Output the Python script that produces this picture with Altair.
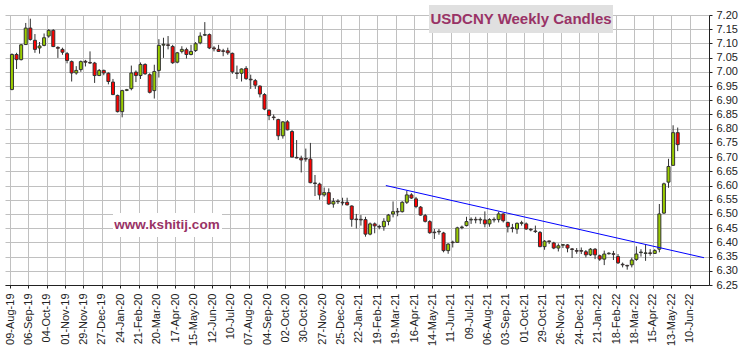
import altair as alt
import pandas as pd

# ---- data (weekly OHLC, first week starting 12-Aug-2019) ----
first_week = "2019-08-12"
opens = [6.938, 7.061, 7.043, 7.096, 7.154, 7.111, 7.084, 7.093, 7.126, 7.146,
         7.086, 7.079, 7.064, 7.036, 6.996, 7.008, 7.037, 7.033, 7.031, 6.987,
         7.005, 6.995, 6.964, 6.917, 6.860, 6.935, 6.941, 6.999, 6.987, 7.026,
         6.990, 6.934, 7.005, 7.094, 7.095, 7.089, 7.034, 7.072, 7.078, 7.061,
         7.075, 7.102, 7.129, 7.131, 7.084, 7.079, 7.074, 7.074, 7.065, 6.996,
         6.995, 7.012, 6.974, 6.969, 6.950, 6.920, 6.865, 6.841, 6.832, 6.775,
         6.824, 6.790, 6.699, 6.696, 6.695, 6.693, 6.609, 6.605, 6.567, 6.575,
         6.535, 6.545, 6.541, 6.541, 6.528, 6.482, 6.481, 6.480, 6.429, 6.465,
         6.456, 6.455, 6.474, 6.500, 6.509, 6.508, 6.541, 6.567, 6.553, 6.524,
         6.494, 6.473, 6.436, 6.437, 6.433, 6.371, 6.401, 6.400, 6.452, 6.459,
         6.479, 6.481, 6.479, 6.479, 6.465, 6.479, 6.480, 6.500, 6.470, 6.451,
         6.447, 6.467, 6.465, 6.446, 6.440, 6.435, 6.385, 6.405, 6.398, 6.380,
         6.390, 6.391, 6.377, 6.371, 6.371, 6.367, 6.356, 6.376, 6.353, 6.341,
         6.360, 6.360, 6.350, 6.323, 6.319, 6.321, 6.340, 6.364, 6.361, 6.363,
         6.361, 6.376, 6.503, 6.612, 6.671, 6.786]
highs = [7.065, 7.067, 7.098, 7.172, 7.187, 7.133, 7.105, 7.135, 7.150, 7.150,
         7.090, 7.085, 7.070, 7.040, 7.020, 7.040, 7.042, 7.072, 7.035, 7.010,
         7.008, 6.998, 6.975, 6.920, 6.937, 6.940, 7.022, 7.005, 7.033, 7.030,
         6.995, 7.025, 7.115, 7.120, 7.126, 7.095, 7.070, 7.090, 7.085, 7.095,
         7.105, 7.139, 7.175, 7.135, 7.090, 7.095, 7.081, 7.085, 7.068, 7.022,
         7.012, 7.020, 6.990, 6.975, 6.952, 6.925, 6.868, 6.850, 6.835, 6.826,
         6.830, 6.795, 6.760, 6.705, 6.730, 6.750, 6.637, 6.610, 6.593, 6.590,
         6.556, 6.552, 6.557, 6.557, 6.530, 6.500, 6.496, 6.490, 6.470, 6.470,
         6.462, 6.485, 6.500, 6.544, 6.521, 6.545, 6.582, 6.573, 6.560, 6.528,
         6.500, 6.478, 6.447, 6.447, 6.437, 6.397, 6.406, 6.455, 6.459, 6.490,
         6.488, 6.490, 6.488, 6.509, 6.485, 6.488, 6.508, 6.502, 6.473, 6.465,
         6.470, 6.476, 6.470, 6.450, 6.459, 6.440, 6.408, 6.406, 6.402, 6.396,
         6.394, 6.394, 6.380, 6.380, 6.382, 6.373, 6.380, 6.380, 6.357, 6.371,
         6.365, 6.370, 6.359, 6.329, 6.321, 6.346, 6.386, 6.376, 6.394, 6.376,
         6.376, 6.535, 6.610, 6.694, 6.812, 6.804]
lows = [6.935, 7.010, 7.040, 7.095, 7.110, 7.067, 7.064, 7.090, 7.120, 7.087,
        7.049, 7.060, 7.030, 6.966, 6.990, 7.000, 7.019, 7.028, 6.961, 6.985,
        6.988, 6.956, 6.918, 6.857, 6.840, 6.932, 6.935, 6.964, 6.975, 6.990,
        6.924, 6.906, 6.980, 7.049, 7.079, 7.028, 7.030, 7.065, 7.047, 7.058,
        7.070, 7.097, 7.126, 7.080, 7.072, 7.070, 7.055, 7.060, 6.993, 6.975,
        6.966, 6.972, 6.940, 6.940, 6.910, 6.865, 6.830, 6.830, 6.760, 6.765,
        6.794, 6.700, 6.696, 6.646, 6.684, 6.608, 6.563, 6.550, 6.561, 6.532,
        6.522, 6.535, 6.530, 6.530, 6.455, 6.449, 6.459, 6.420, 6.425, 6.432,
        6.446, 6.441, 6.460, 6.488, 6.492, 6.505, 6.535, 6.553, 6.520, 6.494,
        6.470, 6.430, 6.412, 6.427, 6.365, 6.360, 6.382, 6.398, 6.446, 6.456,
        6.465, 6.467, 6.465, 6.453, 6.455, 6.470, 6.470, 6.470, 6.435, 6.435,
        6.430, 6.459, 6.444, 6.439, 6.433, 6.383, 6.374, 6.394, 6.376, 6.368,
        6.380, 6.365, 6.345, 6.360, 6.359, 6.347, 6.352, 6.341, 6.335, 6.320,
        6.357, 6.338, 6.324, 6.312, 6.304, 6.312, 6.335, 6.350, 6.335, 6.353,
        6.360, 6.365, 6.500, 6.592, 6.670, 6.721]
closes = [7.061, 7.043, 7.095, 7.154, 7.114, 7.079, 7.091, 7.120, 7.146, 7.089,
          7.083, 7.069, 7.040, 6.996, 7.005, 7.036, 7.034, 7.031, 6.987, 7.005,
          6.996, 6.966, 6.920, 6.860, 6.934, 6.937, 6.996, 6.987, 7.026, 6.993,
          6.928, 7.001, 7.093, 7.097, 7.093, 7.032, 7.067, 7.079, 7.061, 7.072,
          7.099, 7.126, 7.131, 7.084, 7.081, 7.072, 7.072, 7.067, 7.000, 6.994,
          7.010, 6.976, 6.972, 6.953, 6.922, 6.869, 6.846, 6.839, 6.775, 6.824,
          6.796, 6.700, 6.697, 6.690, 6.693, 6.610, 6.607, 6.567, 6.575, 6.535,
          6.544, 6.543, 6.539, 6.532, 6.481, 6.480, 6.479, 6.429, 6.465, 6.458,
          6.454, 6.474, 6.496, 6.508, 6.507, 6.541, 6.567, 6.556, 6.526, 6.496,
          6.474, 6.434, 6.434, 6.439, 6.371, 6.394, 6.399, 6.451, 6.454, 6.473,
          6.481, 6.479, 6.481, 6.465, 6.480, 6.481, 6.500, 6.476, 6.455, 6.449,
          6.467, 6.469, 6.447, 6.444, 6.438, 6.385, 6.404, 6.403, 6.380, 6.388,
          6.392, 6.380, 6.375, 6.369, 6.369, 6.356, 6.376, 6.356, 6.341, 6.359,
          6.362, 6.358, 6.328, 6.321, 6.317, 6.338, 6.359, 6.366, 6.363, 6.361,
          6.371, 6.500, 6.606, 6.667, 6.786, 6.744]

tick_dates = ["2019-08-09", "2019-09-06", "2019-10-04", "2019-11-01", "2019-11-29",
              "2019-12-27", "2020-01-24", "2020-02-21", "2020-03-20", "2020-04-17",
              "2020-05-15", "2020-06-12", "2020-07-10", "2020-08-07", "2020-09-04",
              "2020-10-02", "2020-10-30", "2020-11-27", "2020-12-25", "2021-01-22",
              "2021-02-19", "2021-03-19", "2021-04-16", "2021-05-14", "2021-06-11",
              "2021-07-09", "2021-08-06", "2021-09-03", "2021-10-01", "2021-10-29",
              "2021-11-26", "2021-12-24", "2022-01-21", "2022-02-18", "2022-03-18",
              "2022-04-15", "2022-05-13", "2022-06-10"]
y_ticks = [6.25, 6.30, 6.35, 6.40, 6.45, 6.50, 6.55, 6.60, 6.65, 6.70,
           6.75, 6.80, 6.85, 6.90, 6.95, 7.00, 7.05, 7.10, 7.15, 7.20]
x_range = ["2019-08-09", "2022-07-02T02:00:00"]

trend_dates = ["2021-03-04", "2022-07-02T02:00:00"]
trend_values = [6.600, 6.346]

title_text = "USDCNY Weekly Candles"
site_text = "www.kshitij.com"


def ms(s):
    return int(pd.Timestamp(s, tz="UTC").value // 10**6)


dates = pd.date_range(pd.Timestamp(first_week, tz="UTC"), periods=len(opens), freq="7D")
df = pd.DataFrame({
    "date": [int(d.value // 10**6) for d in dates],
    "open": opens, "high": highs, "low": lows, "close": closes,
})
df["dir"] = ["up" if c >= o else "down" for o, c in zip(opens, closes)]

trend_df = pd.DataFrame({"date": [ms(d) for d in trend_dates], "price": trend_values})

xscale = alt.Scale(type="utc", domain=[ms(d) for d in x_range])
yscale = alt.Scale(domain=[6.25, 7.20], nice=False, zero=False)

xaxis = alt.Axis(values=[ms(d) for d in tick_dates],
                 labelExpr="utcFormat(datum.value, '%d-%b-%y')",
                 labelAngle=-90, labelPadding=5, tickSize=3, title=None,
                 grid=True, gridColor="#c0c0c0", gridWidth=1,
                 domainColor="#222222", tickColor="#222222", labelColor="#222222",
                 labelFont="Liberation Sans", labelFontSize=11, labelOverlap=False)
yaxis = alt.Axis(values=y_ticks, format=".2f", orient="right", labelPadding=4, tickSize=3,
                 title=None, grid=True, gridColor="#c0c0c0", gridWidth=1,
                 domainColor="#222222", tickColor="#222222", labelColor="#222222",
                 labelFont="Liberation Sans", labelFontSize=11, labelOverlap=False)


def xenc():
    return alt.X("date:T", scale=xscale, axis=xaxis)


def yenc(field):
    return alt.Y(f"{field}:Q", scale=yscale, axis=yaxis)


base = alt.Chart(df)

wicks = base.mark_rule(color="#333333", strokeWidth=1).encode(
    x=xenc(), y=yenc("low"), y2="high:Q")

bodies = base.mark_bar(size=3, stroke="#333333", strokeWidth=1).encode(
    x=xenc(), y=yenc("open"), y2="close:Q",
    color=alt.Color("dir:N", scale=alt.Scale(domain=["up", "down"], range=["#99cc00", "#ff0000"]),
                    legend=None))

trend = alt.Chart(trend_df).mark_line(color="#0000ff", strokeWidth=1).encode(
    x=xenc(), y=yenc("price"))

title_df = pd.DataFrame({"label": [title_text]})
site_df = pd.DataFrame({"label": [site_text]})

title_box = alt.Chart(title_df).mark_rect(color="#e0e0e0").encode(
    x=alt.value(424), x2=alt.value(608), y=alt.value(-10), y2=alt.value(18))
title_mark = alt.Chart(title_df).mark_text(
    font="Liberation Sans", fontWeight="bold", fontSize=15, color="#993366",
    align="center", baseline="alphabetic").encode(
    x=alt.value(516), y=alt.value(9), text="label:N")

site_box = alt.Chart(site_df).mark_rect(color="#ffffff").encode(
    x=alt.value(108), x2=alt.value(217), y=alt.value(198), y2=alt.value(222))
site_mark = alt.Chart(site_df).mark_text(
    font="Liberation Sans", fontWeight="bold", fontSize=13.5, color="#993366",
    align="center", baseline="alphabetic").encode(
    x=alt.value(162), y=alt.value(213.5), text="label:N")

chart = alt.layer(
    site_box, site_mark, wicks, bodies, trend, title_box, title_mark
).properties(
    width=704, height=270,
    autosize=alt.AutoSizeParams(type="none"),
    padding={"left": 5, "top": 15, "right": 36, "bottom": 66},
    background="#ffffff",
).configure_view(strokeWidth=0)

chart.save("out.html", embed_options={"renderer": "svg", "actions": False})
